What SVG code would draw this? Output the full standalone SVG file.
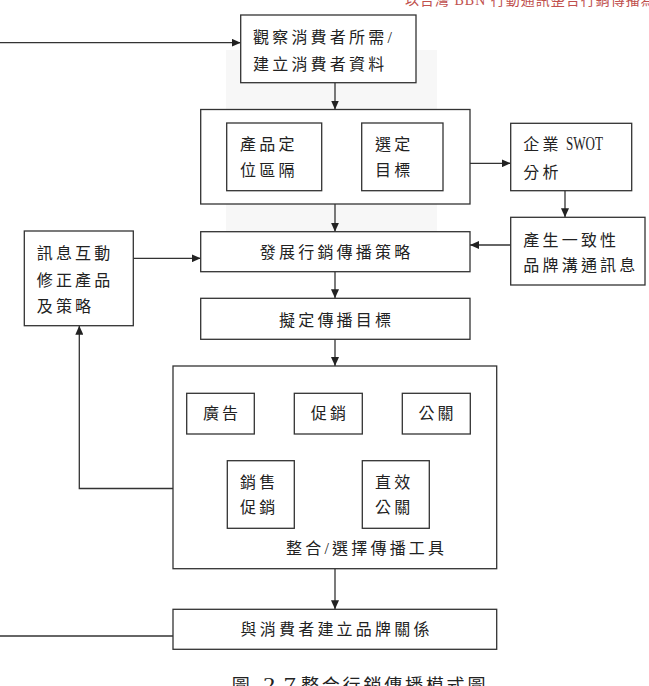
<svg xmlns="http://www.w3.org/2000/svg" width="649" height="686" viewBox="0 0 649 686">
<defs>
<marker id="ah" viewBox="0 0 9 8" refX="9" refY="4" markerWidth="9" markerHeight="8" markerUnits="userSpaceOnUse" orient="auto">
<path d="M0,0 L9,4 L0,8 z" fill="#222"/>
</marker>
<style>
.box{fill:#fff;stroke:#333;stroke-width:1.3}
.t{font-family:"Liberation Serif","Noto Sans CJK TC","Noto Sans CJK SC",serif;font-size:16px;letter-spacing:3.2px;fill:#222}
.c{fill:none;stroke:#333;stroke-width:1.3}
.a{marker-end:url(#ah)}
</style>
</defs>
<rect width="649" height="686" fill="#fff"/>
<rect x="226" y="50" width="211" height="181" fill="#f7f7f7"/>
<text x="405" y="4.5" style="font-family:'Liberation Serif','Noto Sans CJK TC',serif;font-size:14px;letter-spacing:1px;fill:#c0504d">以台灣 BBN 行動通訊整合行銷傳播為例</text>

<g id="connectors">
<path class="c a" d="M0,42.7 H240.7"/>
<path class="c a" d="M335,82.7 V109.5"/>
<path class="c a" d="M470,163.3 H510.7"/>
<path class="c a" d="M565,190.7 V217.3"/>
<path class="c a" d="M510.7,245 H470"/>
<path class="c a" d="M335,204 V231.7"/>
<path class="c a" d="M133.3,258.3 H200.7"/>
<path class="c a" d="M335,271.7 V298.3"/>
<path class="c a" d="M335,339.3 V366"/>
<path class="c a" d="M173,488.5 H79.3 V325.7"/>
<path class="c a" d="M335,568.7 V609.3"/>
<path class="c" d="M0,636 H173"/>
</g>

<g id="observe">
<rect class="box" x="240.7" y="15" width="175.3" height="67.7"/>
<text class="t" x="253" y="43">觀察消費者所需/</text>
<text class="t" x="253" y="69.5">建立消費者資料</text>
</g>

<g id="segment-group">
<rect class="box" x="200.7" y="109.5" width="269.3" height="94.5"/>
</g>
<g id="positioning">
<rect class="box" x="226.7" y="123" width="95" height="67.7"/>
<text class="t" x="240" y="149.5">產品定</text>
<text class="t" x="240" y="176">位區隔</text>
</g>
<g id="target">
<rect class="box" x="361.7" y="123" width="81.3" height="67.7"/>
<text class="t" x="375" y="149.5">選定</text>
<text class="t" x="375" y="176">目標</text>
</g>

<g id="swot">
<rect class="box" x="510.7" y="123.3" width="121" height="67.4"/>
<text class="t" x="523.3" y="149.5">企業<tspan x="566" textLength="37" lengthAdjust="spacingAndGlyphs" style="letter-spacing:0;font-size:18px">SWOT</tspan></text>
<text class="t" x="523.3" y="177.5">分析</text>
</g>

<g id="consistent">
<rect class="box" x="510.7" y="217.3" width="134.3" height="67.7"/>
<text class="t" x="523.3" y="246">產生一致性</text>
<text class="t" x="523.3" y="271">品牌溝通訊息</text>
</g>

<g id="develop">
<rect class="box" x="200.7" y="231.7" width="269.3" height="40"/>
<text class="t" x="259.8" y="257.7">發展行銷傳播策略</text>
</g>

<g id="feedback">
<rect class="box" x="24.3" y="231" width="109" height="94.7"/>
<text class="t" x="36.7" y="259">訊息互動</text>
<text class="t" x="36.7" y="286">修正產品</text>
<text class="t" x="36.7" y="312">及策略</text>
</g>

<g id="objective">
<rect class="box" x="200.7" y="298.3" width="269.3" height="41"/>
<text class="t" x="279" y="325.8">擬定傳播目標</text>
</g>

<g id="tools">
<rect class="box" x="173" y="366" width="323.7" height="202.7"/>
<text class="t" x="286" y="554.3">整合/選擇傳播工具</text>
</g>
<g id="ad">
<rect class="box" x="186.7" y="393.3" width="67.6" height="40.7"/>
<text class="t" x="202.9" y="419">廣告</text>
</g>
<g id="promo">
<rect class="box" x="294.3" y="393.3" width="68" height="40.7"/>
<text class="t" x="310.7" y="419">促銷</text>
</g>
<g id="pr">
<rect class="box" x="402.3" y="393.3" width="68" height="40.7"/>
<text class="t" x="418.4" y="419">公關</text>
</g>
<g id="sales-promo">
<rect class="box" x="227.3" y="460.7" width="67" height="67.6"/>
<text class="t" x="240" y="487.7">銷售</text>
<text class="t" x="240" y="512.7">促銷</text>
</g>
<g id="direct">
<rect class="box" x="362.3" y="460.7" width="67" height="67.6"/>
<text class="t" x="375" y="487.7">直效</text>
<text class="t" x="375" y="512.7">公關</text>
</g>

<g id="relationship">
<rect class="box" x="173" y="609.3" width="323.7" height="40"/>
<text class="t" x="240.6" y="635.3">與消費者建立品牌關係</text>
</g>

<text x="231.7" y="692" style="font-family:'Liberation Serif','Noto Sans CJK TC',serif;font-size:18px;letter-spacing:2.8px;fill:#222">圖<tspan x="263" textLength="33" lengthAdjust="spacingAndGlyphs" style="letter-spacing:0;font-size:20px">2-7</tspan><tspan x="301">整合行銷傳播模式圖</tspan></text>
</svg>
